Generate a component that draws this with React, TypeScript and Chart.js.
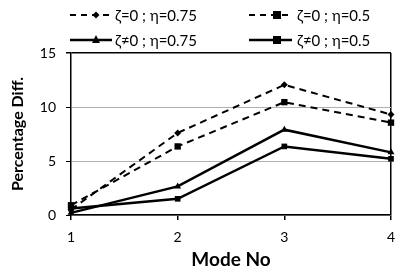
import React, { useEffect, useRef } from "react";
import { Chart, registerables } from "chart.js";

Chart.register(...registerables);

const categories = ["1", "2", "3", "4"];
const s1Label = "ζ=0 ; η=0.75";
const s1Values = [0.5, 7.6, 12.05, 9.3];
const s2Label = "ζ=0 ; η=0.5";
const s2Values = [0.9, 6.35, 10.45, 8.55];
const s3Label = "ζ≠0 ; η=0.75";
const s3Values = [0.2, 2.65, 7.9, 5.8];
const s4Label = "ζ≠0 ; η=0.5";
const s4Values = [0.6, 1.5, 6.35, 5.2];
const yTicks = [0, 5, 10, 15];

const FONT = "Lato, 'Open Sans', sans-serif";

export default function App() {
  const ref = useRef<HTMLCanvasElement | null>(null);
  useEffect(() => {
    const canvas = ref.current;
    if (!canvas) return;
    const legendItems = [
      { label: s1Label, dash: [6, 5], style: "rectRot", r: 3.5, x0: 70, x1: 112, mx: 96, tx: 115, y: 15 },
      { label: s2Label, dash: [6, 5], style: "rect", r: 4, x0: 249, x1: 292, mx: 277, tx: 297, y: 15 },
      { label: s3Label, dash: [], style: "triangle", r: 4, x0: 70, x1: 112, mx: 96, tx: 115, y: 40 },
      { label: s4Label, dash: [], style: "rect", r: 4, x0: 249, x1: 292, mx: 277, tx: 297, y: 40 },
    ];
    const legendPlugin = {
      id: "customLegend",
      afterDraw(chart: any) {
        const ctx = chart.ctx;
        ctx.save();
        for (const it of legendItems) {
          ctx.strokeStyle = "#000";
          ctx.lineWidth = it.dash.length ? 2 : 2.5;
          ctx.setLineDash(it.dash);
          ctx.beginPath();
          ctx.moveTo(it.x0, it.y);
          ctx.lineTo(it.x1, it.y);
          ctx.stroke();
          ctx.setLineDash([]);
          ctx.fillStyle = "#000";
          ctx.beginPath();
          if (it.style === "rectRot") {
            ctx.moveTo(it.mx, it.y - it.r);
            ctx.lineTo(it.mx + it.r, it.y);
            ctx.lineTo(it.mx, it.y + it.r);
            ctx.lineTo(it.mx - it.r, it.y);
            ctx.closePath();
          } else if (it.style === "rect") {
            ctx.rect(it.mx - it.r, it.y - it.r, it.r * 2, it.r * 2);
          } else {
            ctx.moveTo(it.mx, it.y - it.r - 1);
            ctx.lineTo(it.mx + it.r, it.y + it.r - 1);
            ctx.lineTo(it.mx - it.r, it.y + it.r - 1);
            ctx.closePath();
          }
          ctx.fill();
          ctx.font = `15px ${FONT}`;
          ctx.textBaseline = "middle";
          ctx.textAlign = "left";
          ctx.fillText(it.label, it.tx, it.y + 1);
        }
        ctx.restore();
      },
    };
    const lineDs = (label: string, data: number[], dashed: boolean, ps: string, r: number) => ({
      label,
      data,
      borderColor: "#000",
      backgroundColor: "#000",
      borderWidth: dashed ? 2 : 2.5,
      borderDash: dashed ? [7, 5] : [],
      pointStyle: ps,
      pointRadius: r,
      pointBorderWidth: 0,
      pointBackgroundColor: "#000",
      tension: 0,
      clip: false,
    });
    const chart = new Chart(canvas, {
      type: "line",
      data: {
        labels: categories,
        datasets: [
          lineDs(s1Label, s1Values, true, "rectRot", 3.5),
          lineDs(s2Label, s2Values, true, "rect", 4.5),
          lineDs(s3Label, s3Values, false, "triangle", 4),
          lineDs(s4Label, s4Values, false, "rect", 4),
        ],
      },
      options: {
        animation: false,
        responsive: false,
        layout: { padding: { top: 53, right: 16, left: 0, bottom: 0 } },
        plugins: { legend: { display: false }, tooltip: { enabled: false } },
        scales: {
          x: {
            type: "category",
            offset: false,
            afterFit: (axis: any) => {
              axis.height = 60;
            },
            grid: {
              drawOnChartArea: true,
              color: (c: any) => (c.index === 3 ? "#000" : "rgba(0,0,0,0)"),
              lineWidth: 1.5,
              tickColor: "#000",
              tickLength: 5,
            },
            border: { color: "#000", width: 1.5 },
            ticks: { color: "#000", font: { family: FONT, size: 14 }, padding: 9, maxRotation: 0 },
            title: {
              display: true,
              text: "Mode No",
              color: "#000",
              font: { family: FONT, size: 19, weight: "bold" },
              padding: { top: 4, bottom: 4 },
            },
          },
          y: {
            min: 0,
            max: 15,
            afterFit: (axis: any) => {
              axis.width = 71;
            },
            afterBuildTicks: (axis: any) => {
              axis.ticks = yTicks.map((v) => ({ value: v }));
            },
            grid: {
              color: (c: any) => (c.tick && c.tick.value === 15 ? "#000" : "#b0b0b0"),
              lineWidth: (c: any) => (c.tick && c.tick.value === 15 ? 1.5 : 1),
              tickColor: "#000",
              tickLength: 5,
            },
            border: { color: "#000", width: 1.5 },
            ticks: { color: "#000", font: { family: FONT, size: 14 }, padding: 10 },
            title: {
              display: true,
              text: "Percentage Diff.",
              color: "#000",
              font: { family: FONT, size: 16, weight: "bold" },
              padding: { top: 8, bottom: 8 },
            },
          },
        },
      },
      plugins: [legendPlugin],
    } as any);
    return () => chart.destroy();
  }, []);
  return (
    <div style={{ position: "fixed", left: 0, top: 0, width: 407, height: 275, background: "#fff" }}>
      <canvas ref={ref} width={407} height={275} style={{ display: "block" }} />
    </div>
  );
}
